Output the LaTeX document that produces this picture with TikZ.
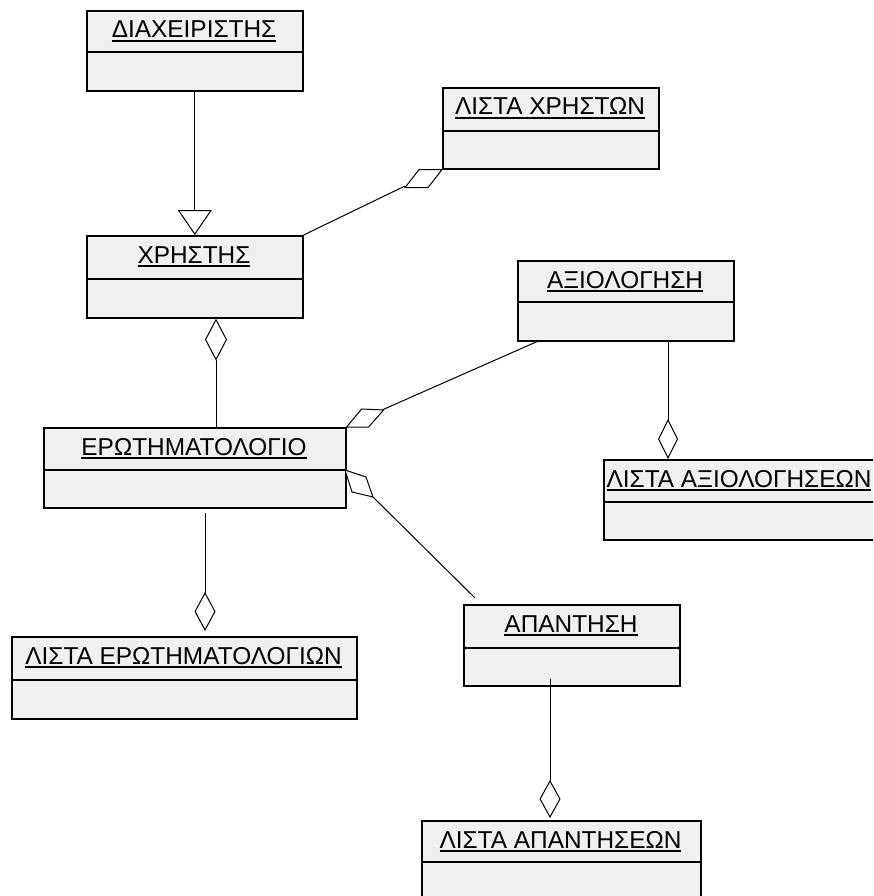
\documentclass[tikz,border=0pt]{standalone}
\usepackage{fontspec}
\setmainfont{Liberation Sans}
\usetikzlibrary{arrows.meta}

\definecolor{classfill}{HTML}{F0F0F0}
\newsavebox\titlebox
% underlined class name with a rule of fixed weight
\newcommand\ulined[1]{\sbox\titlebox{#1}\rlap{\rule[-3.6pt]{\wd\titlebox}{1.3pt}}\usebox\titlebox}

\tikzset{
  classframe/.style={draw=black, fill=classfill, line width=1.6pt, inner sep=0pt, anchor=north west},
  classrule/.style={draw=black, line width=1.6pt},
  classtitle/.style={inner sep=0pt, anchor=base, font=\fontsize{24.4}{28}\selectfont},
  assoc/.style={draw=black, line width=1pt},
  aggtip/.style={draw=black, line width=1pt, fill=white, line join=miter},
  gentip/.style={-{Triangle[open, length=25pt, width=34pt, line width=1pt]}},
}

% name, left, right, top, divider, bottom, title
\newcommand\umlclass[7]{%
  \node[classframe, minimum width={#3pt-#2pt}, minimum height={#6pt-#4pt}] (#1) at (#2,#4) {};
  \draw[classrule] (#2,#5) -- (#3,#5);
  \node[classtitle] (#1-title) at ({(#2+#3)/2},{#4+28}) {\ulined{#7}};
}

\begin{document}
\begin{tikzpicture}[x=1pt, y=-1pt]
  \useasboundingbox (0,0) rectangle (873,896);
  \clip (0,0) rectangle (873,896);

  % classes
  \umlclass{admin}{86}{302}{10}{52}{90}{ΔΙΑΧΕΙΡΙΣΤΗΣ}
  \umlclass{userlist}{442}{658}{87}{131}{168}{ΛΙΣΤΑ ΧΡΗΣΤΩΝ}
  \umlclass{user}{86}{302}{235}{279}{317}{ΧΡΗΣΤΗΣ}
  \umlclass{rating}{517}{733}{260}{302}{340}{ΑΞΙΟΛΟΓΗΣΗ}
  \umlclass{quest}{43}{345}{427}{470}{507}{ΕΡΩΤΗΜΑΤΟΛΟΓΙΟ}
  \umlclass{ratinglist}{603}{875}{459}{502}{539}{ΛΙΣΤΑ ΑΞΙΟΛΟΓΗΣΕΩΝ}
  \umlclass{questlist}{11}{356}{636}{680}{718}{ΛΙΣΤΑ ΕΡΩΤΗΜΑΤΟΛΟΓΙΩΝ}
  \umlclass{answer}{463}{679}{604}{648}{685}{ΑΠΑΝΤΗΣΗ}
  \umlclass{answerlist}{421}{700}{820}{862}{905}{ΛΙΣΤΑ ΑΠΑΝΤΗΣΕΩΝ}

  % generalisation: administrator is a user
  \draw[assoc, gentip] (admin.south) -- (user.north);

  % user list aggregates users
  \coordinate (ul-d) at (405,186);
  \draw[aggtip] (userlist.south west) -- ++(-23,0) -- ++(-14,18) -- ++(23,0) -- cycle;
  \draw[assoc] (user.north east) -- (ul-d);

  % user aggregates questionnaires
  \draw[assoc, -{Diamond[open, length=42pt, width=22pt, line width=1pt]}]
    (quest.north -| 216,0) -- (user.south -| 216,0);

  % questionnaire aggregates ratings
  \coordinate (qr-d) at (382,410);
  \draw[aggtip] (quest.north east) -- ++(15,-18) -- ++(22,1) -- ++(-15,17) -- cycle;
  \draw[assoc] ([xshift=20pt]rating.south west) -- (qr-d);

  % rating list aggregates ratings
  \draw[assoc, -{Diamond[open, length=40pt, width=20pt, line width=1pt]}]
    (rating.south -| 668,0) -- (ratinglist.north -| 668,0);

  % questionnaire aggregates answers
  \coordinate (qa-s) at (345,470);
  \coordinate (qa-d) at (373,497);
  \draw[aggtip] (qa-s) -- ++(21,7) -- ++(7,20) -- ++(-21,-5) -- cycle;
  \draw[assoc] (qa-d) -- ([shift={(12pt,6pt)}]answer.north west);

  % questionnaire list aggregates questionnaires
  \coordinate (ql-a) at (205,513);
  \coordinate (ql-b) at (205,631);
  \draw[assoc, -{Diamond[open, length=39pt, width=21pt, line width=1pt]}] (ql-a) -- (ql-b);

  % answer list aggregates answers
  \coordinate (al-a) at (550,679);
  \coordinate (al-b) at (550,818);
  \draw[assoc, -{Diamond[open, length=38pt, width=21pt, line width=1pt]}] (al-a) -- (al-b);
\end{tikzpicture}
\end{document}
